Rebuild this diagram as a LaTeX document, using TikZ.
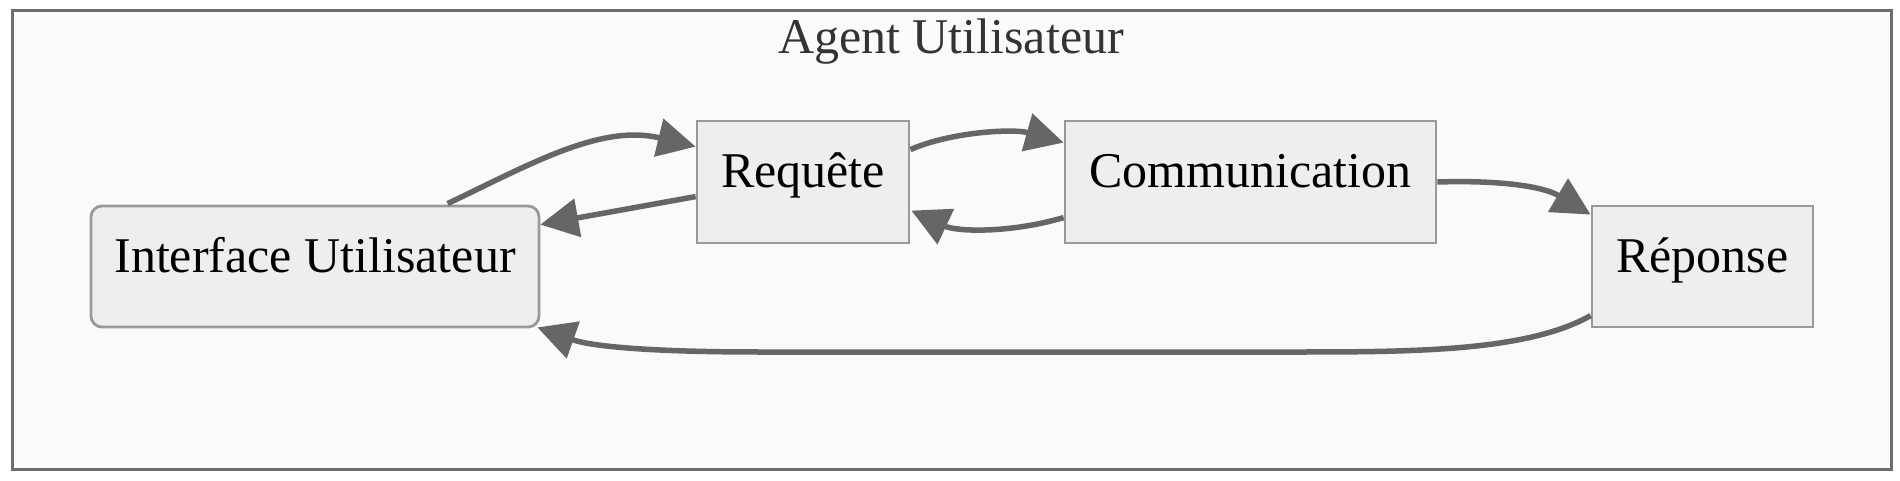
\documentclass[tikz,border=0pt]{standalone}
\usepackage{fontspec}
\setmainfont{Liberation Serif}
\usetikzlibrary{arrows.meta,calc}
\definecolor{framecol}{RGB}{110,110,110}
\definecolor{framefill}{RGB}{250,250,250}
\definecolor{boxfill}{RGB}{238,238,238}
\definecolor{boxline}{RGB}{153,153,153}
\definecolor{edgecol}{RGB}{102,102,102}
\definecolor{titlecol}{RGB}{51,51,51}
\tikzset{
  stepbox/.style={draw=boxline, fill=boxfill, line width=2.8pt, inner sep=0pt,
    font=\fontsize{50}{60}\selectfont, text height=30pt, text depth=19pt},
  link/.style={draw=edgecol, line width=5.5pt,
    -{Triangle[length=38pt,width=38pt]}},
}
\begin{document}
\begin{tikzpicture}[x=1pt,y=-1pt]
\useasboundingbox (0,0) rectangle (1900,481);
\fill[white] (0,0) rectangle (1900,481);
\draw[draw=framecol, fill=framefill, line width=3pt] (12,11) rectangle (1891,469);
\node[anchor=base, text=titlecol, font=\fontsize{50}{60}\selectfont] (title) at (951,54) {Agent Utilisateur};

\node[stepbox, rounded corners=11pt, minimum width=448pt, minimum height=121pt] (iface) at (315,266.5) {Interface Utilisateur};
\node[stepbox, minimum width=212pt, minimum height=122pt] (req) at (803,182) {Requête};
\node[stepbox, minimum width=371pt, minimum height=122pt] (comm) at (1250.5,182) {Communication};
\node[stepbox, minimum width=221pt, minimum height=121pt] (rep) at (1702.5,266.5) {Réponse};

% Interface -> Requete
\draw[link] ($(iface.north west)+(358,-1)$) .. controls ($(iface.north west)+(440,-40)$) and ($(req.north west)+(-95,4)$) .. ($(req.north west)+(0,27)$);
% Requete -> Interface
\draw[link] ($(req.north west)+(0,77)$) -- ($(iface.north east)+(0,20)$);
% Requete -> Communication
\draw[link] ($(req.north east)+(0,30)$) .. controls ($(req.north east)+(41,12)$) and ($(comm.north west)+(-50,9)$) .. ($(comm.north west)+(0,23)$);
% Communication -> Requete
\draw[link] ($(comm.north west)+(0,98)$) .. controls ($(comm.north west)+(-55,114)$) and ($(req.north east)+(46,112)$) .. ($(req.north east)+(1,91)$);
% Communication -> Reponse
\draw[link] (comm.east) .. controls ($(comm.east)+(64,-2)$) and ($(rep.north west)+(-47,-18)$) .. ($(rep.north west)+(0,10)$);
% Reponse -> Interface
\coordinate (bendR) at (1300,352);
\coordinate (bendL) at (760,352);
\draw[link] ($(rep.north west)+(0,111)$) .. controls ($(rep.north west)+(-62,146)$) and ($(bendR)+(120,0)$) .. (bendR) -- (bendL) .. controls ($(bendL)+(-110,0)$) and ($(iface.south east)+(51,18)$) .. ($(iface.south east)+(-3,-1)$);
\end{tikzpicture}
\end{document}
